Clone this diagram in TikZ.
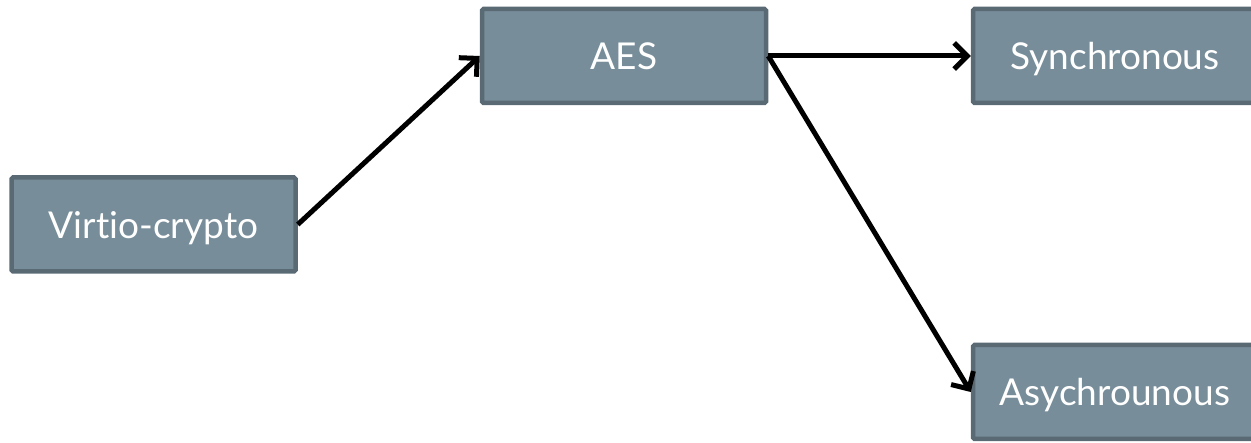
\documentclass[tikz,border=0pt]{standalone}
\usepackage{fontspec}
\setmainfont[Ligatures=NoCommon]{Lato}
\usetikzlibrary{arrows.meta}
\definecolor{boxfill}{HTML}{778D99}
\definecolor{boxline}{HTML}{5A6A74}
\tikzset{
  box/.style={rectangle, fill=boxfill, draw=boxline, line width=4.5pt, rounded corners=1.5pt,
    minimum width=284pt, minimum height=94pt, text=white, font=\fontsize{37}{40}\selectfont, inner sep=0pt,
    text height=36pt, text depth=8pt},
  conn/.style={line width=5pt, draw=black, -{Straight Barb[length=13pt,width=26pt,line width=5pt]}}
}
\begin{document}
\begin{tikzpicture}[x=1pt,y=-1pt]
\useasboundingbox (0,0) rectangle (1251,443);
\clip (0,0) rectangle (1251,443);
\node[box] (vc) at (153.5,224.5) {Virtio-crypto};
\node[box] (aes) at (624,56) {AES};
\node[box] (syn) at (1115,56) {Synchronous};
\node[box] (asy) at (1115,392) {Asychrounous};
\draw[conn] (vc.east) -- (aes.west);
\draw[conn] (aes.east) -- (syn.west);
\draw[conn] (aes.east) -- (asy.west);
\end{tikzpicture}
\end{document}
